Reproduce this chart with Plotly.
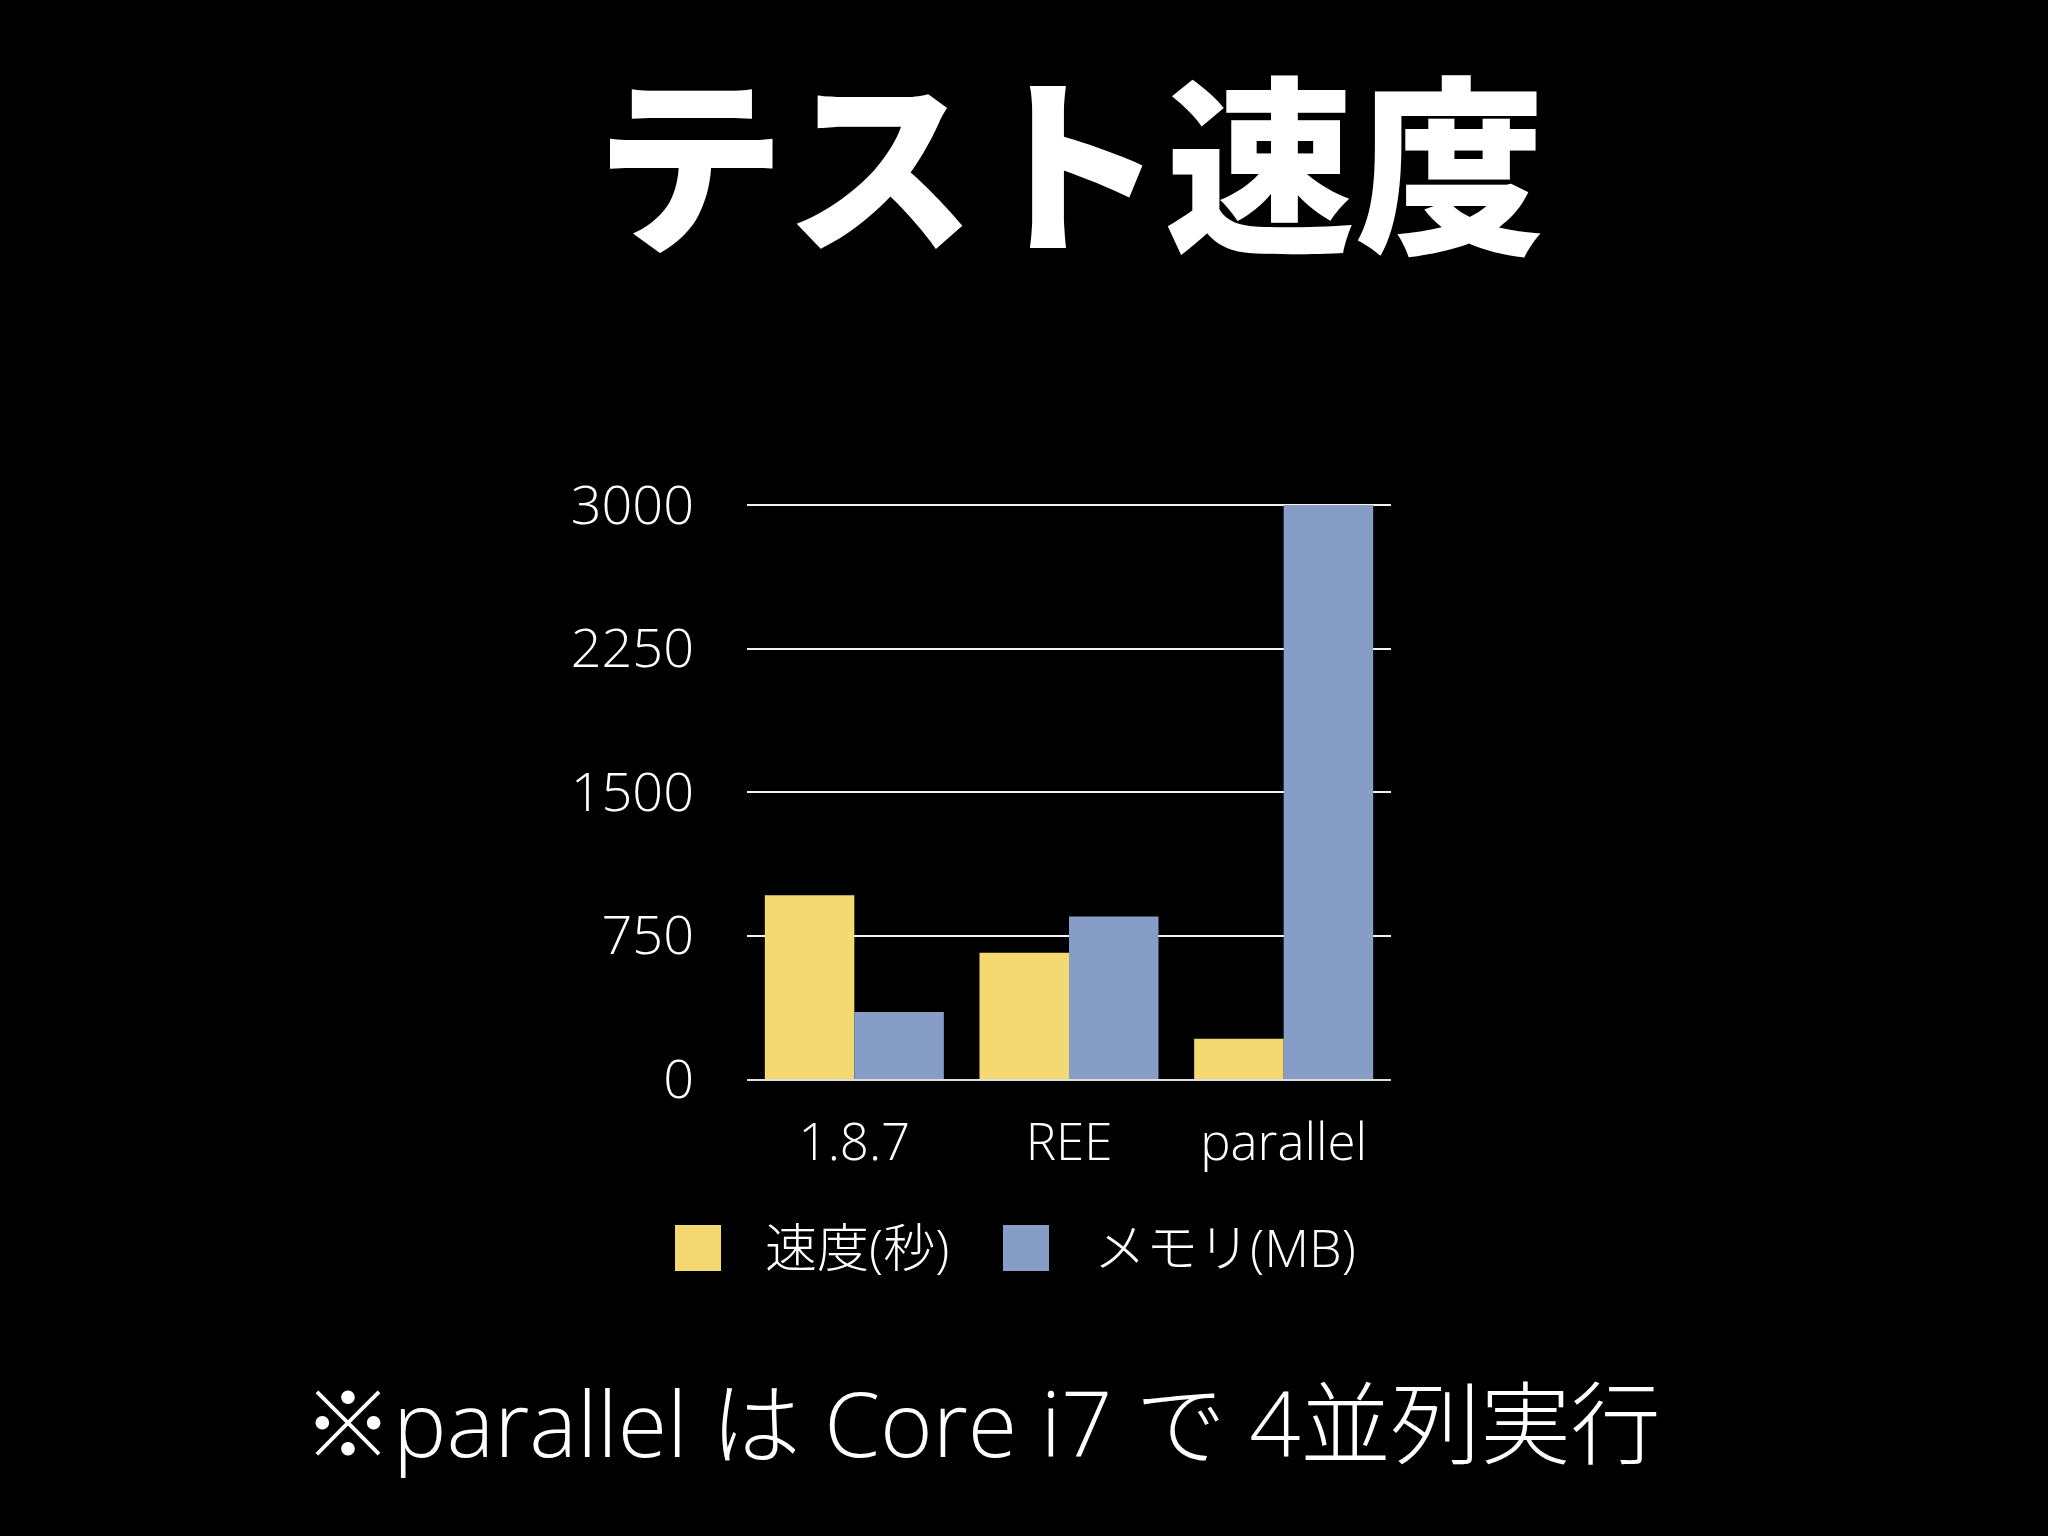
import plotly.graph_objects as go

# ---- data ----
categories = ["1.8.7", "REE", "parallel"]
series_names = ["速度(秒)", "メモリ(MB)"]
speed_sec = [960, 660, 210]
memory_mb = [350, 850, 3000]
y_tickvals = [0, 750, 1500, 2250, 3000]
y_ticktext = ["0", "750", "1500", "2250", "3000"]
series_colors = ["#F4D973", "#869EC6"]

title_text = "テスト速度"
footnote_text = "※parallel は Core i7 で 4並列実行"

FONT = "Noto Sans CJK JP"
TXT_FONT = "Open Sans, Noto Sans CJK JP"
W, H = 2048, 1536
YMAX = 3016
L, R, B = 747, 1391, 1079  # plot area in pixels
T = round(505 - (YMAX - 3000) * (1079 - 505) / 3000)
PW, PH = R - L, B - T


def px(x):
    return (x - L) / PW


def py(y):
    return (B - y) / PH


fig = go.Figure()
for name, vals, col in zip(series_names, [speed_sec, memory_mb], series_colors):
    fig.add_trace(go.Bar(
        x=categories, y=vals, name=name,
        marker=dict(color=col, line=dict(width=0)),
        showlegend=False,
    ))

fig.update_layout(
    width=W, height=H,
    paper_bgcolor="black", plot_bgcolor="black",
    margin=dict(l=L, r=W - R, t=T, b=H - B, pad=0),
    barmode="group", bargap=0.166, bargroupgap=0,
    font=dict(family=TXT_FONT, color="white", size=50),
    title=dict(
        text=title_text,
        font=dict(family=FONT, size=190, color="white", weight=900),
        xref="container", yref="container",
        x=1070 / W, y=1 - 171 / H, xanchor="center", yanchor="middle",
    ),
    xaxis=dict(
        showgrid=False, zeroline=False,
        showline=True, linecolor="#DDDDDD", linewidth=2,
        ticks="", ticklabelstandoff=18,
        tickfont=dict(family=TXT_FONT, size=51, color="white", weight=300),
    ),
    yaxis=dict(
        range=[0, YMAX],
        tickvals=y_tickvals, ticktext=y_ticktext,
        showgrid=True, gridcolor="#F4F4F4", gridwidth=2,
        zeroline=False, showline=False,
        ticks="", ticklabelstandoff=52,
        tickfont=dict(family=TXT_FONT, size=54, color="white", weight=300),
    ),
)

# custom legend (large swatches)
legend_swatch_x = [675, 1003]
legend_text_x = [763, 1092]
for name, col, sx, tx in zip(series_names, series_colors, legend_swatch_x, legend_text_x):
    fig.add_shape(type="rect", xref="paper", yref="paper",
                  x0=px(sx), x1=px(sx + 46), y0=py(1271), y1=py(1225),
                  fillcolor=col, line=dict(width=0))
    fig.add_annotation(text=name, xref="paper", yref="paper",
                       x=px(tx), y=py(1246), xanchor="left", yanchor="middle",
                       showarrow=False,
                       font=dict(family=TXT_FONT, size=52, color="white", weight=300))

fig.add_annotation(text=footnote_text, xref="paper", yref="paper",
                   x=px(982), y=py(1422), xanchor="center", yanchor="middle",
                   showarrow=False,
                   font=dict(family=TXT_FONT, size=90, color="white", weight=300))

fig.write_html(
    "out.html",
    config={"displayModeBar": False},
    post_script="document.body.style.margin='0';document.body.style.background='black';",
)
